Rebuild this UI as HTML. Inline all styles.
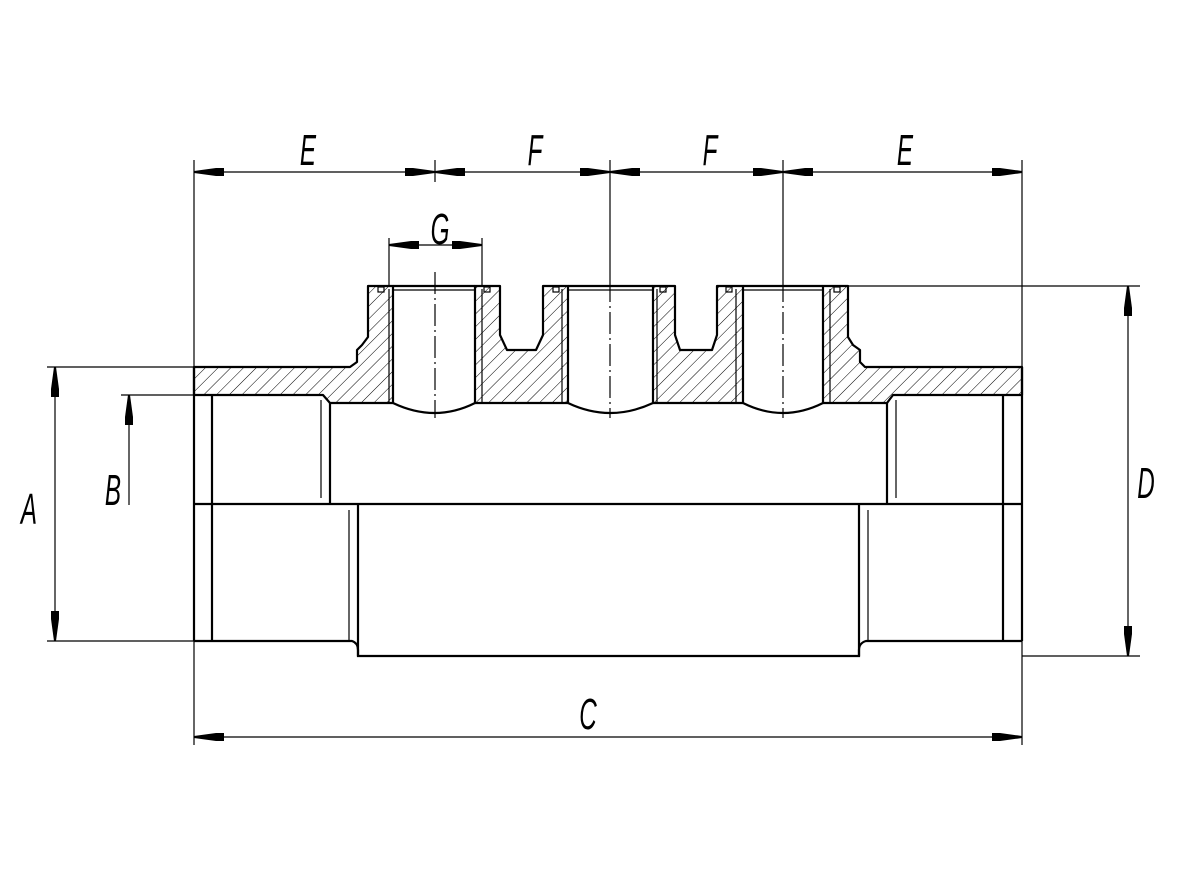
<!DOCTYPE html>
<html><head><meta charset="utf-8"><style>
html,body{margin:0;padding:0;background:#fff;}
svg{display:block;}
text{font-family:"Liberation Sans",sans-serif;font-style:italic;font-size:44px;fill:#000;}
</style></head><body>
<svg width="1181" height="886" viewBox="0 0 1181 886" xmlns="http://www.w3.org/2000/svg">
<defs>
<pattern id="h" patternUnits="userSpaceOnUse" width="9" height="9" patternTransform="rotate(45)">
<line x1="0" y1="0" x2="0" y2="9" stroke="#000" stroke-width="1"/>
</pattern>
<marker id="ar" markerUnits="userSpaceOnUse" markerWidth="32" markerHeight="12" viewBox="0 -6 32 12" refX="30" refY="0" orient="auto-start-reverse">
<path d="M0,-4 L8,-4 L30,-1 L30,1 L8,4 L0,4 z" fill="#000"/>
</marker>
</defs>

<!-- hatched sections -->
<g fill="url(#h)" stroke="#000" stroke-width="2.2" stroke-linejoin="round">
<path d="M194,367 L350,367 L357,362 L357,350 L362,345 L368,337 L368,286 L393,286 L393,403 L330,403 L323,395 L194,395 Z"/>
<path d="M475,286 L500,286 L500,335 L507,350 L536,350 L543,335 L543,286 L568,286 L568,403 L475,403 Z"/>
<path d="M653,286 L675,286 L675,335 L680,350 L712,350 L717,335 L717,286 L743,286 L743,403 L653,403 Z"/>
<path d="M823,286 L848,286 L848,337 L853,345 L860,350 L860,362 L865,367 L1022,367 L1022,395 L893,395 L887,403 L823,403 Z"/>
</g>

<g fill="none" stroke="#000" stroke-width="2.2">
<!-- bore tops and arcs -->
<line x1="393" y1="286" x2="475" y2="286"/>
<line x1="568" y1="286" x2="653" y2="286"/>
<line x1="743" y1="286" x2="823" y2="286"/>
<path d="M393,403 Q435,423 475,403"/>
<path d="M568,403 Q610,423 653,403"/>
<path d="M743,403 Q783,423 823,403"/>
<!-- body -->
<line x1="194" y1="367" x2="194" y2="641"/>
<line x1="1022" y1="367" x2="1022" y2="641"/>
<line x1="212" y1="395" x2="212" y2="641"/>
<line x1="1003" y1="395" x2="1003" y2="641"/>
<line x1="194" y1="504" x2="1022" y2="504"/>
<line x1="330" y1="403" x2="330" y2="504"/>
<line x1="887" y1="403" x2="887" y2="504"/>
<path d="M194,641 L352,641 Q358,643 358,650 L358,656 L859,656 L859,650 Q859,643 866,641 L1022,641"/>
<line x1="358" y1="504" x2="358" y2="656"/>
<line x1="859" y1="504" x2="859" y2="656"/>
</g>

<g fill="none" stroke="#000" stroke-width="1.2">
<!-- thread lines -->
<line x1="389" y1="289" x2="389" y2="403"/>
<line x1="482" y1="289" x2="482" y2="403"/>
<line x1="562" y1="289" x2="562" y2="403"/>
<line x1="657" y1="289" x2="657" y2="403"/>
<line x1="736" y1="289" x2="736" y2="403"/>
<line x1="830" y1="289" x2="830" y2="403"/>
<line x1="393" y1="290" x2="475" y2="290"/>
<line x1="568" y1="290" x2="653" y2="290"/>
<line x1="743" y1="290" x2="823" y2="290"/>
<line x1="321" y1="400" x2="321" y2="498"/>
<line x1="896" y1="400" x2="896" y2="498"/>
<line x1="349" y1="510" x2="349" y2="640"/>
<line x1="868" y1="510" x2="868" y2="640"/>
<rect x="378" y="287" width="6" height="5"/>
<rect x="484" y="287" width="6" height="5"/>
<rect x="553" y="287" width="6" height="5"/>
<rect x="660" y="287" width="6" height="5"/>
<rect x="726" y="287" width="6" height="5"/>
<rect x="834" y="287" width="6" height="5"/>

<!-- extension lines -->
<line x1="194" y1="160" x2="194" y2="367"/>
<line x1="194" y1="641" x2="194" y2="745"/>
<line x1="1022" y1="160" x2="1022" y2="367"/>
<line x1="1022" y1="641" x2="1022" y2="745"/>
<line x1="435" y1="160" x2="435" y2="182"/>
<line x1="610" y1="160" x2="610" y2="280"/>
<line x1="783" y1="160" x2="783" y2="280"/>
<line x1="389" y1="238" x2="389" y2="286"/>
<line x1="482" y1="238" x2="482" y2="286"/>
<line x1="848" y1="286" x2="1140" y2="286"/>
<line x1="1022" y1="656" x2="1140" y2="656"/>
<line x1="47" y1="367" x2="194" y2="367"/>
<line x1="47" y1="641" x2="194" y2="641"/>
<line x1="121" y1="395" x2="194" y2="395"/>

<!-- centerlines -->
<g stroke-dasharray="22,4,2,4">
<line x1="435" y1="272" x2="435" y2="418"/>
<line x1="610" y1="280" x2="610" y2="418"/>
<line x1="783" y1="280" x2="783" y2="418"/>
</g>

<!-- dimension lines -->
<g marker-start="url(#ar)" marker-end="url(#ar)">
<line x1="194" y1="172" x2="435" y2="172"/>
<line x1="435" y1="172" x2="610" y2="172"/>
<line x1="610" y1="172" x2="783" y2="172"/>
<line x1="783" y1="172" x2="1022" y2="172"/>
<line x1="389" y1="245" x2="482" y2="245"/>
<line x1="194" y1="737" x2="1022" y2="737"/>
<line x1="55" y1="367" x2="55" y2="641"/>
<line x1="1128" y1="286" x2="1128" y2="656"/>
</g>
<line x1="129" y1="505" x2="129" y2="395" marker-end="url(#ar)"/>
</g>

<g text-anchor="middle">
<text transform="translate(308,165) scale(0.55,1)">E</text>
<text transform="translate(535,165) scale(0.55,1)">F</text>
<text transform="translate(710,165) scale(0.55,1)">F</text>
<text transform="translate(905,165) scale(0.55,1)">E</text>
<text transform="translate(440,244) scale(0.55,1)">G</text>
<text transform="translate(588,729) scale(0.55,1)">C</text>
<text transform="translate(29,524) scale(0.55,1)">A</text>
<text transform="translate(113,505) scale(0.55,1)">B</text>
<text transform="translate(1146,498) scale(0.55,1)">D</text>
</g>
</svg>
</body></html>
